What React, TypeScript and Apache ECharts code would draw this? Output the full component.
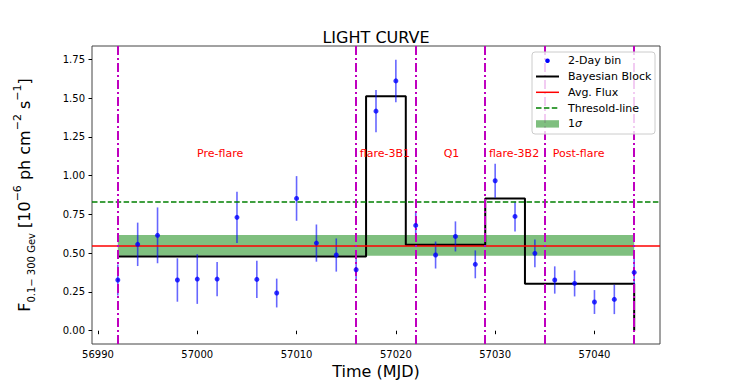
import React, { useEffect, useRef } from "react";
import * as echarts from "echarts";

// ---- data ----
const mjd = [
  56992, 56994, 56996, 56998, 57000, 57002, 57004, 57006, 57008, 57010, 57012, 57014, 57016,
  57018, 57020, 57022, 57024, 57026, 57028, 57030, 57032, 57034, 57036, 57038, 57040, 57042, 57044,
];
const flux = [
  0.327, 0.557, 0.615, 0.327, 0.333, 0.333, 0.731, 0.331, 0.243, 0.853, 0.565, 0.488, 0.393,
  1.416, 1.611, 0.679, 0.488, 0.608, 0.428, 0.967, 0.737, 0.499, 0.327, 0.305, 0.185, 0.202, 0.376,
];
const fluxErr = [
  0.1, 0.14, 0.18, 0.14, 0.16, 0.11, 0.165, 0.12, 0.093, 0.144, 0.12, 0.107, 0.07,
  0.137, 0.137, 0.09, 0.087, 0.097, 0.09, 0.11, 0.097, 0.089, 0.088, 0.084, 0.077, 0.095, 0.09,
];
const blockEdges = [56992, 57017, 57021, 57029, 57033, 57044];
const blockLevels = [0.479, 1.512, 0.555, 0.853, 0.303];
const blockEndLevel = 0;
const avgFlux = 0.552;
const sigmaLow = 0.483;
const sigmaHigh = 0.617;
const thresholdFlux = 0.827;
const periodBounds = [56992, 57016, 57022, 57029, 57035, 57044];
const regionNames = ["Pre-flare", "flare-3B1", "Q1", "flare-3B2", "Post-flare"];
const regionX = [57002.3, 57018.9, 57025.6, 57031.9, 57038.4];
const regionY = 1.145;
const xTicks = [56990, 57000, 57010, 57020, 57030, 57040];
const yTicks = [0, 0.25, 0.5, 0.75, 1.0, 1.25, 1.5, 1.75];
const xRange = [56989.4, 57046.6];
const yRange = [-0.0857, 1.836];
const legendLabels = ["2-Day bin", "Bayesian Block", "Avg. Flux", "Thresold-line", "1{s|σ}"];

const FONT = "DejaVu Sans";
const MAGENTA = "#bf00bf";

export default function App() {
  const ref = useRef<HTMLDivElement>(null);
  useEffect(() => {
    if (!ref.current) return;
    document.body.style.margin = "0";
    const chart = echarts.init(ref.current, null, { renderer: "svg" });

    const blockData: number[][] = [];
    for (let i = 0; i < blockLevels.length; i++) {
      blockData.push([blockEdges[i], blockLevels[i]]);
      blockData.push([blockEdges[i + 1], blockLevels[i]]);
    }
    blockData.push([blockEdges[blockEdges.length - 1], blockEndLevel]);

    const points = mjd.map((x, i) => [x, flux[i], fluxErr[i]]);

    // legend (drawn as graphic)
    const lx = 532, ly = 52, lw = 123, lh = 82;
    const rowY = (i: number) => ly + 8.7 + i * 15.8;
    const ix1 = 536, ix2 = 559, tx = 568;
    const legendEls: any[] = [
      {
        type: "rect",
        shape: { x: lx, y: ly, width: lw, height: lh, r: 3 },
        style: { fill: "rgba(255,255,255,0.8)", stroke: "#cccccc", lineWidth: 1 },
        z: 100,
      },
      { type: "circle", shape: { cx: (ix1 + ix2) / 2, cy: rowY(0), r: 2.3 }, style: { fill: "#0000ff" }, z: 101 },
      { type: "line", shape: { x1: ix1, y1: rowY(1), x2: ix2, y2: rowY(1) }, style: { stroke: "#000", lineWidth: 2 }, z: 101 },
      { type: "line", shape: { x1: ix1, y1: rowY(2), x2: ix2, y2: rowY(2) }, style: { stroke: "#ff0000", lineWidth: 1.5 }, z: 101 },
      { type: "line", shape: { x1: ix1, y1: rowY(3), x2: ix2, y2: rowY(3) }, style: { stroke: "#008000", lineWidth: 1.5, lineDash: [5.5, 2.4] }, z: 101 },
      { type: "rect", shape: { x: ix1, y: rowY(4) - 3.7, width: ix2 - ix1, height: 7.4 }, style: { fill: "rgba(0,128,0,0.5)" }, z: 101 },
    ];
    legendLabels.forEach((t, i) => {
      legendEls.push({
        type: "text",
        x: tx,
        y: rowY(i),
        z: 101,
        style: {
          text: t,
          fontFamily: FONT,
          fontSize: 11,
          fill: "#000",
          verticalAlign: "middle",
          align: "left",
          rich: { s: { fontFamily: FONT, fontSize: 11, fontStyle: "italic", fill: "#000" } },
        },
      });
    });

    const option: any = {
      animation: false,
      backgroundColor: "#ffffff",
      title: {
        text: "LIGHT CURVE",
        left: 376,
        top: 29,
        textAlign: "center",
        textStyle: { fontFamily: FONT, fontSize: 16, fontWeight: "normal", color: "#000" },
        padding: 0,
      },
      grid: {
        left: 92,
        right: 74,
        top: 46,
        bottom: 43,
        show: true,
        borderColor: "#444",
        borderWidth: 1,
        backgroundColor: "transparent",
      },
      xAxis: {
        type: "value",
        min: xRange[0],
        max: xRange[1],
        name: "Time (MJD)",
        nameLocation: "middle",
        nameGap: 13,
        nameTextStyle: { fontFamily: FONT, fontSize: 16, color: "#000" },
        axisLine: { show: false },
        splitLine: { show: false },
        axisTick: { show: true, length: 3.5, lineStyle: { color: "#000" }, customValues: xTicks },
        axisLabel: {
          customValues: xTicks,
          fontFamily: FONT,
          fontSize: 10,
          color: "#000",
          margin: 5,
          formatter: (v: number) => String(Math.round(v)),
        },
      },
      yAxis: {
        type: "value",
        min: yRange[0],
        max: yRange[1],
        name:
          "{m|F}{sub|0.1− 300 Gev}{m| [10}{sup|−6}{m| ph cm}{sup|−2}{m| s}{sup|−1}{m|]}",
        nameLocation: "middle",
        nameRotate: 90,
        nameGap: 56,
        nameTextStyle: {
          fontFamily: FONT,
          color: "#000",
          rich: {
            m: { fontFamily: FONT, fontSize: 16, lineHeight: 24, color: "#000", verticalAlign: "middle" },
            sub: { fontFamily: FONT, fontSize: 10, lineHeight: 10, color: "#000", verticalAlign: "bottom" },
            sup: { fontFamily: FONT, fontSize: 11, lineHeight: 11, color: "#000", verticalAlign: "top" },
          },
        },
        axisLine: { show: false },
        splitLine: { show: false },
        axisTick: { show: true, length: 3.5, lineStyle: { color: "#000" }, customValues: yTicks },
        axisLabel: {
          customValues: yTicks,
          fontFamily: FONT,
          fontSize: 10,
          color: "#000",
          margin: 7,
          formatter: (v: number) => v.toFixed(2),
        },
      },
      graphic: legendEls,
      series: [
        {
          name: "1sigma",
          type: "custom",
          z: 1,
          data: [[blockEdges[0], blockEdges[blockEdges.length - 1], sigmaLow, sigmaHigh]],
          renderItem: (params: any, api: any) => {
            const p1 = api.coord([api.value(0), api.value(3)]);
            const p2 = api.coord([api.value(1), api.value(2)]);
            return {
              type: "rect",
              shape: { x: p1[0], y: p1[1], width: p2[0] - p1[0], height: p2[1] - p1[1] },
              style: { fill: "rgba(0,128,0,0.5)" },
            };
          },
          silent: true,
        },
        {
          name: "Avg. Flux",
          type: "line",
          z: 2,
          data: [],
          markLine: {
            silent: true,
            symbol: "none",
            label: { show: false },
            data: [
              { yAxis: avgFlux, lineStyle: { color: "#ff0000", width: 1.5, type: "solid" } },
              { yAxis: thresholdFlux, lineStyle: { color: "#008000", width: 1.5, type: [5.5, 2.4] } },
            ],
          },
        },
        {
          name: "Bayesian Block",
          type: "line",
          z: 3,
          data: blockData,
          showSymbol: false,
          symbol: "none",
          lineStyle: { color: "#000", width: 2 },
          silent: true,
        },
        {
          name: "errors",
          type: "custom",
          z: 4,
          data: points,
          silent: true,
          renderItem: (params: any, api: any) => {
            const x = api.value(0), y = api.value(1), e = api.value(2);
            const a = api.coord([x, y + e]);
            const b = api.coord([x, y - e]);
            return {
              type: "line",
              shape: { x1: a[0], y1: a[1], x2: b[0], y2: b[1] },
              style: { stroke: "rgba(0,0,255,0.6)", lineWidth: 1.6 },
            };
          },
        },
        {
          name: "periods",
          type: "line",
          z: 5,
          data: [],
          markLine: {
            silent: true,
            symbol: "none",
            label: { show: false },
            lineStyle: { color: MAGENTA, width: 2, type: [9, 3, 2, 3] },
            data: periodBounds.map((x) => ({ xAxis: x })),
          },
        },
        {
          name: "2-Day bin",
          type: "scatter",
          z: 6,
          data: points.map((p) => [p[0], p[1]]),
          symbol: "circle",
          symbolSize: 5,
          itemStyle: { color: "#0000ff" },
          silent: true,
        },
        {
          name: "regions",
          type: "scatter",
          z: 7,
          data: regionNames.map((n, i) => ({ name: n, value: [regionX[i], regionY] })),
          symbolSize: 1,
          itemStyle: { color: "rgba(0,0,0,0)" },
          silent: true,
          label: {
            show: true,
            position: "inside",
            formatter: (p: any) => p.name,
            fontFamily: FONT,
            fontSize: 11,
            color: "#ff0000",
            opacity: 1,
            textBorderWidth: 0,
            textBorderColor: "transparent",
          },
        },
      ],
    };
    chart.setOption(option);
    return () => chart.dispose();
  }, []);
  return (
    <div
      ref={ref}
      style={{ position: "fixed", left: 0, top: 0, width: 734, height: 387, background: "#fff" }}
    />
  );
}
